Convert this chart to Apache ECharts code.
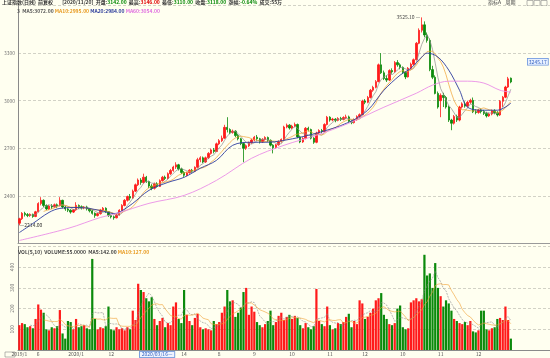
<!DOCTYPE html>
<html><head><meta charset="utf-8">
<script src="https://cdn.jsdelivr.net/npm/echarts@6/dist/echarts.min.js"></script>
<style>html,body{margin:0;padding:0;background:#fffff0;}#c{width:550px;height:358px;}</style>
</head><body><div id="c"></div>
<script>
// ---------- data ----------
const opens = [2228,2256,2290,2282,2276,2284,2270,2300,2352,2372,
2340,2318,2336,2330,2344,2338,2372,2330,2318,2310,
2298,2312,2340,2332,2324,2330,2318,2306,2290,2276,
2288,2310,2322,2300,2276,2268,2262,2280,2310,2340,
2372,2396,2386,2430,2470,2500,2484,2518,2490,2462,
2448,2476,2460,2496,2518,2510,2540,2560,2582,2596,
2570,2548,2530,2546,2562,2556,2580,2628,2640,2614,
2640,2668,2690,2680,2728,2748,2764,2832,2818,2800,
2808,2780,2760,2730,2700,2716,2736,2752,2770,2760,
2740,2756,2768,2750,2720,2704,2722,2742,2756,2834,
2846,2828,2840,2850,2772,2740,2762,2826,2818,2764,
2738,2796,2812,2806,2850,2896,2878,2884,2876,2888,
2882,2894,2898,2870,2862,2880,2900,2912,2998,2990,
3020,3066,3084,3120,3226,3176,3140,3130,3190,3182,
3240,3226,3210,3178,3150,3204,3230,3258,3362,3444,
3478,3414,3380,3196,3148,3046,3000,3034,3020,2960,
2878,2858,2900,2878,2960,2980,2966,2990,3002,2930,
2926,2940,2932,2920,2904,2916,2936,2924,2910,2996,
3022,3086,3142];
const closes = [2256,2290,2282,2276,2284,2270,2300,2352,2372,2340,
2318,2336,2330,2344,2338,2372,2330,2318,2310,2298,
2312,2340,2332,2324,2330,2318,2306,2290,2276,2288,
2310,2322,2300,2276,2268,2262,2280,2310,2340,2372,
2396,2386,2430,2470,2500,2484,2518,2490,2462,2448,
2476,2460,2496,2518,2510,2540,2560,2582,2596,2570,
2548,2530,2546,2562,2556,2580,2628,2640,2614,2640,
2668,2690,2680,2728,2748,2764,2832,2818,2800,2808,
2780,2760,2730,2700,2716,2736,2752,2770,2760,2740,
2756,2768,2750,2720,2704,2722,2742,2756,2834,2846,
2828,2840,2850,2772,2740,2762,2826,2818,2764,2738,
2796,2812,2806,2850,2896,2878,2884,2876,2888,2882,
2894,2898,2870,2862,2880,2900,2912,2998,2990,3020,
3066,3084,3120,3226,3176,3140,3130,3190,3182,3240,
3226,3210,3178,3150,3204,3230,3258,3362,3444,3478,
3414,3380,3196,3148,3046,2960,3034,3020,2960,2878,
2858,2900,2878,2960,2980,2966,2990,3002,2930,2926,
2940,2932,2920,2904,2916,2936,2924,2910,2996,3022,
3086,3138,3118];
const lows = [2214,2248,2270,2266,2268,2262,2266,2296,2340,2330,
2310,2312,2318,2326,2324,2334,2322,2306,2298,2288,
2292,2306,2318,2314,2316,2308,2296,2282,2262,2270,
2282,2300,2292,2268,2258,2250,2258,2276,2304,2334,
2364,2372,2382,2424,2462,2470,2478,2482,2450,2436,
2440,2452,2456,2490,2500,2504,2532,2552,2570,2560,
2538,2520,2524,2540,2546,2550,2576,2612,2606,2608,
2632,2660,2668,2676,2720,2740,2760,2800,2790,2792,
2770,2750,2720,2612,2690,2708,2728,2744,2748,2730,
2734,2748,2740,2712,2668,2698,2716,2736,2752,2826,
2818,2820,2832,2764,2732,2734,2756,2806,2756,2728,
2732,2788,2794,2800,2844,2868,2870,2864,2870,2872,
2876,2884,2862,2852,2856,2874,2892,2908,2978,2984,
3014,3056,3078,3116,3168,3130,3118,3124,3170,3176,
3214,3198,3168,3136,3146,3196,3222,3254,3356,3430,
3400,3366,3186,3136,3040,2950,2896,2960,2950,2866,
2814,2850,2866,2870,2950,2956,2958,2980,2922,2914,
2918,2920,2910,2894,2898,2908,2914,2900,2904,2960,
3016,3080,3110];
const highs = [2262,2298,2300,2292,2290,2288,2306,2360,2392,2378,
2346,2344,2348,2352,2352,2392,2376,2336,2326,2316,
2318,2360,2346,2340,2336,2338,2324,2312,2296,2294,
2318,2330,2328,2304,2284,2276,2286,2316,2348,2380,
2402,2412,2440,2478,2510,2512,2540,2526,2496,2474,
2484,2486,2504,2526,2528,2548,2570,2590,2612,2602,
2578,2556,2552,2568,2570,2586,2640,2650,2648,2648,
2676,2698,2702,2736,2758,2780,2848,2896,2826,2818,
2814,2790,2766,2736,2724,2742,2760,2778,2784,2766,
2764,2776,2774,2756,2726,2728,2750,2762,2842,2856,
2852,2848,2862,2856,2780,2770,2834,2836,2824,2770,
2804,2820,2822,2858,2904,2902,2892,2890,2896,2898,
2902,2912,2906,2876,2888,2908,2920,3006,3010,3030,
3074,3094,3130,3234,3300,3190,3160,3198,3204,3250,
3256,3236,3216,3186,3212,3240,3266,3370,3456,3525.10,
3500,3430,3392,3220,3160,3058,3046,3050,3030,2970,
2886,2910,2912,2968,2990,2996,3000,3012,3020,2946,
2948,2950,2942,2930,2924,2944,2946,2934,3004,3030,
3094,3150,3146];
const volumes = [120,130,125,110,115,105,150,220,195,180,
100,95,110,105,115,193,80,55,140,135,
100,150,110,115,120,105,100,440,150,100,
110,105,115,210,100,95,110,100,105,95,
110,100,190,145,320,290,280,250,235,255,
150,120,140,155,110,130,120,210,230,150,
130,290,170,140,120,155,175,110,100,105,
100,95,140,125,135,180,210,290,235,240,
160,180,205,280,300,170,210,185,135,120,
110,125,140,190,120,135,165,180,145,160,
170,150,165,155,120,105,130,110,100,115,
295,140,125,115,210,120,100,105,130,125,
135,160,175,110,140,125,240,225,150,160,
180,200,240,250,275,170,150,125,120,130,
200,215,110,100,105,230,240,250,235,245,
460,360,370,300,420,300,260,210,240,225,
190,150,140,130,125,135,120,140,90,85,
95,190,190,100,95,105,110,150,155,145,
210,145,55];
// long moving averages (history starts before the visible window): [candle index, value]
const ma20Pts = [[0,2169],[5,2226],[11,2296],[15,2321],[22,2327],[30,2308],[35,2289],[37,2296],[42,2353],
[48,2435],[55,2485],[61,2517],[67,2574],[73,2624],[79,2719],[86,2738],[91,2738],[98,2750],[110,2795],
[122,2864],[129,2940],[135,3066],[141,3161],[145,3205],[149,3275],[151,3300],[155,3275],[159,3193],
[163,3066],[166,2959],[172,2940],[177,2940],[182,2984]];
const ma60Pts = [[0,2119],[18,2195],[30,2264],[36,2289],[48,2353],[61,2403],[73,2498],[86,2637],[98,2719],
[110,2782],[122,2858],[135,2959],[147,3047],[153,3098],[159,3123],[166,3123],[172,3111],[178,3066],[182,3054]];
// axes / labels
const priceMin = 2100, priceMax = 3600, priceStep = 300;
const volMin = 0, volMax = 500, volStep = 100;
const xLabelIdx  = [0, 7, 21, 34, 61, 74, 87, 101, 115, 128, 142, 156, 170];
const xLabelText = ['2019/1','6','2020/1','12','14','8','9','10','11','12','10','11','12'];
const cursorIdx = 51, cursorDate = '2020/03/16—';
const cursorPrice = 3245.17;
const lastDate = '2020/11/20';
const emptySlots = 14;

// ---------- build ----------
const N = closes.length;
const categories = Array.from({length: N + emptySlots}, (_, i) => String(i));
const candleData = closes.map((c, i) => [opens[i], c, lows[i], highs[i]]);
function movingAvg(arr, n) {
  return arr.map((_, i) => {
    if (i < n - 1) return '-';
    let s = 0; for (let k = i - n + 1; k <= i; k++) s += arr[k];
    return +(s / n).toFixed(2);
  });
}
const ma5 = movingAvg(closes, 5), ma10 = movingAvg(closes, 10);
const vma5 = movingAvg(volumes, 5), vma10 = movingAvg(volumes, 10);
const UP = '#ff1a1a', DOWN = '#0b8a0b';
const volData = volumes.map((v, i) => ({value: v, itemStyle: {color: closes[i] >= opens[i] ? UP : DOWN}}));
const labelMap = {}; xLabelIdx.forEach((k, j) => labelMap[k] = xLabelText[j]);
let peakIdx = 0, lowIdx = 0;
highs.forEach((h, i) => { if (h > highs[peakIdx]) peakIdx = i; });
lows.forEach((l, i) => { if (l < lows[lowIdx]) lowIdx = i; });
const L = N - 1;
const chg = ((closes[L] - closes[L-1]) / closes[L-1] * 100).toFixed(2);
const f2 = v => (+v).toFixed(2);

const FONT = '"Noto Sans CJK SC","DejaVu Sans",sans-serif';
const chart = echarts.init(document.getElementById('c'), null, {renderer: 'canvas'});
chart.setOption({
  animation: false,
  backgroundColor: '#fffff0',
  textStyle: {fontFamily: FONT},
  title: [
    {left: 2, top: 0, padding: 0,
     text: '{d|上证指数(日线)  前复权}        {d|[' + lastDate + ']}  {d|开盘:}{g|' + f2(opens[L]) + '}  {d|最高:}{r|' + f2(highs[L]) +
       '}  {d|最低:}{g|' + f2(lows[L]) + '}  {d|收盘:}{g|' + f2(closes[L]) + '}  {d|涨幅:}{g|' + chg + '%}  {d|成交:' + volumes[L] + '万}',
     textStyle: {fontSize: 5, rich: {d: {fontSize: 5, color: '#333'}, g: {fontSize: 5, color: '#0a8a0a'}, r: {fontSize: 5, color: '#e00000'}}}},
    {left: 17, top: 9, padding: 0,
     text: '{d|3  MA5:' + f2(ma5[L]) + '} {o|MA10:' + f2(ma10[L]) + '} {n|MA20:' + f2(ma20Pts[ma20Pts.length-1][1]) + '} {p|MA60:' + f2(ma60Pts[ma60Pts.length-1][1]) + '}',
     textStyle: {fontSize: 5, rich: {d: {fontSize: 5, color: '#555'}, o: {fontSize: 5, color: '#e89a20'}, n: {fontSize: 5, color: '#2a3a9a'}, p: {fontSize: 5, color: '#e070e0'}}}},
    {left: 18, top: 250, padding: 0,
     text: '{d|VOL(5,10)  VOLUME:' + volumes[L].toFixed(4) + '  MA5:' + f2(vma5[L]) + '} {o|MA10:' + f2(vma10[L]) + '}',
     textStyle: {fontSize: 5, rich: {d: {fontSize: 5, color: '#444'}, o: {fontSize: 5, color: '#e89a20'}}}},
    {left: 488, top: 0, padding: 0, text: '指标A    周期',
     textStyle: {fontSize: 5, color: '#444', fontWeight: 'normal'}}
  ],
  graphic: [
    {type: 'rect', shape: {x: 527, y: 0.5, width: 6, height: 5}, style: {fill: 'none', stroke: '#888', lineWidth: 0.6}},
    {type: 'rect', shape: {x: 534, y: 0.5, width: 6, height: 5}, style: {fill: 'none', stroke: '#888', lineWidth: 0.6}},
    {type: 'rect', shape: {x: 541, y: 0.5, width: 6, height: 5}, style: {fill: 'none', stroke: '#888', lineWidth: 0.6}},
    {type: 'rect', shape: {x: 5, y: 352, width: 10, height: 5}, style: {fill: 'none', stroke: '#888', lineWidth: 0.6}}
  ],
  grid: [
    {left: 18, right: 0, top: 5.5, height: 238},
    {left: 18, right: 0, top: 246.5, height: 103.5}
  ],
  xAxis: [
    {type: 'category', data: categories, gridIndex: 0, boundaryGap: true,
     axisLine: {show: true, lineStyle: {color: '#9a9a9a', width: 1}}, axisTick: {show: false}, axisLabel: {show: false}, splitLine: {show: false}},
    {type: 'category', data: categories, gridIndex: 1, boundaryGap: true,
     axisLine: {show: true, lineStyle: {color: '#8a8a8a', width: 1}}, axisTick: {show: false}, splitLine: {show: false},
     axisLabel: {show: true, fontSize: 5, color: '#555', margin: 2,
       interval: (idx) => (labelMap.hasOwnProperty(idx) || idx === cursorIdx),
       formatter: (val, idx) => idx === cursorIdx ? '{b|' + cursorDate + '}' : (labelMap[idx] || ''),
       rich: {b: {fontSize: 5, color: '#2f5fc0', backgroundColor: '#eef4ff', borderColor: '#5a88d8', borderWidth: 0.8, padding: [0, 2, 0, 2]}}}}
  ],
  yAxis: [
    {type: 'value', gridIndex: 0, min: priceMin, max: priceMax, interval: priceStep,
     axisLine: {show: true, lineStyle: {color: '#8a8a8a'}}, axisTick: {show: false},
     axisLabel: {fontSize: 5, color: '#777', margin: 3, showMinLabel: false, showMaxLabel: false, formatter: v => String(v)},
     splitLine: {show: true, lineStyle: {color: '#d2d2c6', type: [3, 2], width: 1}}},
    {type: 'value', gridIndex: 1, min: volMin, max: volMax, interval: volStep,
     axisLine: {show: true, lineStyle: {color: '#8a8a8a'}}, axisTick: {show: false},
     axisLabel: {fontSize: 5, color: '#777', margin: 3, rotate: 90, showMinLabel: false, showMaxLabel: false, formatter: v => String(v)},
     splitLine: {show: true, lineStyle: {color: '#d2d2c6', type: [3, 2], width: 1}}}
  ],
  series: [
    {type: 'candlestick', name: 'K', xAxisIndex: 0, yAxisIndex: 0, data: candleData, barWidth: '70%',
     itemStyle: {color: UP, color0: DOWN, borderColor: UP, borderColor0: DOWN, borderWidth: 0.8},
     markPoint: {symbol: 'rect', symbolSize: 1, itemStyle: {color: 'transparent'}, animation: false,
       data: [
         {coord: [peakIdx, highs[peakIdx]], label: {show: true, position: 'left', distance: 1, fontSize: 5, color: '#444', formatter: f2(highs[peakIdx]) + ' —'}},
         {coord: [lowIdx, lows[lowIdx]], label: {show: true, position: 'right', distance: 0, fontSize: 5, color: '#333', formatter: '—' + f2(lows[lowIdx])}},
         {coord: [N + 9, cursorPrice], label: {show: true, position: 'inside', fontSize: 5, color: '#2f5fc0', backgroundColor: '#e8f0ff', borderColor: '#6a94dc', borderWidth: 0.8, padding: [1, 1, 0, 1], formatter: f2(cursorPrice)}}
       ]}},
    {type: 'line', name: 'MA5', xAxisIndex: 0, yAxisIndex: 0, data: ma5, symbol: 'none', lineStyle: {color: '#8c8c8c', width: 0.7}},
    {type: 'line', name: 'MA10', xAxisIndex: 0, yAxisIndex: 0, data: ma10, symbol: 'none', lineStyle: {color: '#f0a030', width: 0.7}},
    {type: 'line', name: 'MA20', xAxisIndex: 0, yAxisIndex: 0, data: ma20Pts, symbol: 'none', smooth: 0.35, lineStyle: {color: '#2f3d9e', width: 0.9}},
    {type: 'line', name: 'MA60', xAxisIndex: 0, yAxisIndex: 0, data: ma60Pts, symbol: 'none', smooth: 0.35, lineStyle: {color: '#ea8ee6', width: 0.9}},
    {type: 'bar', name: 'VOL', xAxisIndex: 1, yAxisIndex: 1, data: volData, barWidth: '82%'},
    {type: 'line', name: 'VMA5', xAxisIndex: 1, yAxisIndex: 1, data: vma5, symbol: 'none', lineStyle: {color: '#888', width: 0.6, type: [2, 1]}},
    {type: 'line', name: 'VMA10', xAxisIndex: 1, yAxisIndex: 1, data: vma10, symbol: 'none', lineStyle: {color: '#f0a030', width: 0.6}}
  ]
});
</script>
</body></html>
